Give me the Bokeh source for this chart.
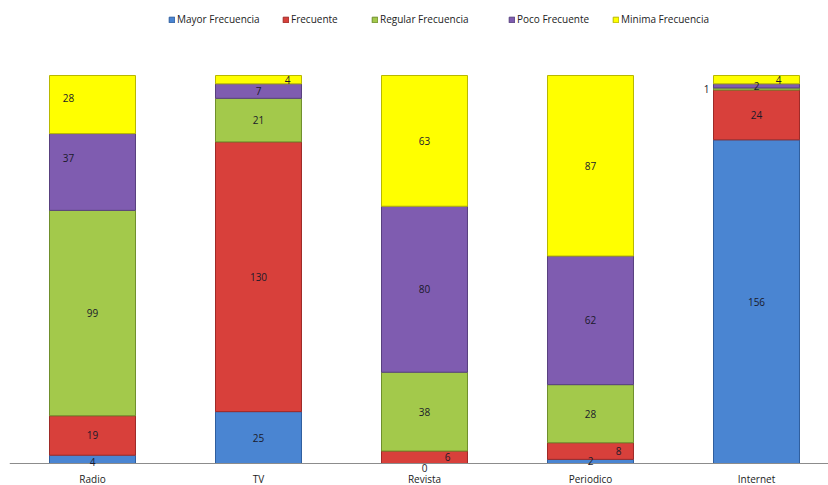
from bokeh.plotting import figure
from bokeh.models import ColumnDataSource, Range1d, Legend, LegendItem, LabelSet, Span
from bokeh.core.properties import value
from bokeh.embed import file_html
from bokeh.resources import INLINE

categories = ["Radio", "TV", "Revista", "Periodico", "Internet"]
series_names = ["Mayor Frecuencia", "Frecuente", "Regular Frecuencia", "Poco Frecuente", "Minima Frecuencia"]
mayor = [4, 25, 0, 2, 156]
frecuente = [19, 130, 6, 8, 24]
regular = [99, 21, 38, 28, 1]
poco = [37, 7, 80, 62, 2]
minima = [28, 4, 63, 87, 4]

series_values = [mayor, frecuente, regular, poco, minima]
colors = ["#4A85D2", "#D8403B", "#A3C94B", "#7F5CB0", "#FFFF00"]
edges = ["#2F5E9E", "#9E2A27", "#6F8F2C", "#58407F", "#B8B800"]

# label screen offsets (px, +x right, +y down) for placements that differ from centered
label_adjust = {
    (0, 4): (-24, -7), (0, 3): (-24, -14), (0, 0): (0, 3),
    (1, 4): (29, 0),
    (2, 0): (0, 4), (2, 1): (23, 0),
    (3, 1): (28, 0),
    (4, 2): (-50, 0), (4, 4): (22, 0),
}
# legend swatch screen x positions
legend_x = [168, 282, 371, 508, 612]

px_per_unit = 388 / 187
xs = list(range(len(categories)))
data = {"x": xs}
keys = ["s%d" % i for i in range(len(series_names))]
for k, vals in zip(keys, series_values):
    data[k] = vals
source = ColumnDataSource(data)

p = figure(width=828, height=485, output_backend="svg", toolbar_location=None,
           x_range=Range1d(-0.5, -0.5 + 819 / 166),
           y_range=Range1d(-22 / px_per_unit, 463 / px_per_unit),
           min_border_left=9, min_border_right=0, min_border_top=0, min_border_bottom=0)

renderers = p.vbar_stack(keys, x="x", width=0.518, source=source,
                         color=colors, line_color=edges, line_width=1)

p.add_layout(Span(location=0, dimension="width", line_color="#8C8C8C", line_width=1))

lx, ly, lt, lxo, lyo = [], [], [], [], []
for ci in range(len(categories)):
    base = 0
    for si, vals in enumerate(series_values):
        v = vals[ci]
        lx.append(xs[ci])
        ly.append(base + v / 2)
        lt.append(str(v))
        dx, dy = label_adjust.get((ci, si), (0, 0))
        lxo.append(dx)
        lyo.append(-dy)
        base += v
lsrc = ColumnDataSource(dict(x=lx, y=ly, t=lt, xo=lxo, yo=lyo))
p.add_layout(LabelSet(x="x", y="y", text="t", x_offset="xo", y_offset="yo", source=lsrc,
                      text_align="center", text_baseline="middle", text_font=value("Open Sans"),
                      text_font_size="10px", text_color="#1A1A2A"))

csrc = ColumnDataSource(dict(x=xs, y=[0] * len(xs), t=categories))
p.add_layout(LabelSet(x="x", y="y", text="t", y_offset=-15, source=csrc,
                      text_align="center", text_baseline="middle", text_font=value("Open Sans"),
                      text_font_size="10px", text_color="#222222"))

p.xaxis.visible = False
p.yaxis.visible = False
p.xgrid.visible = False
p.ygrid.visible = False
p.outline_line_color = None

for n, r, lxp in zip(series_names, renderers, legend_x):
    legend = Legend(items=[LegendItem(label=n, renderers=[r])], orientation="horizontal",
                    location=(lxp - 9, 459),
                    glyph_width=7, glyph_height=7, label_height=12, label_standoff=2,
                    padding=0, margin=0, border_line_color=None,
                    background_fill_alpha=0, label_text_font="Open Sans",
                    label_text_font_size="10px", label_text_color="#222222")
    p.add_layout(legend, "center")

open("out.html", "w").write(file_html(p, INLINE))
